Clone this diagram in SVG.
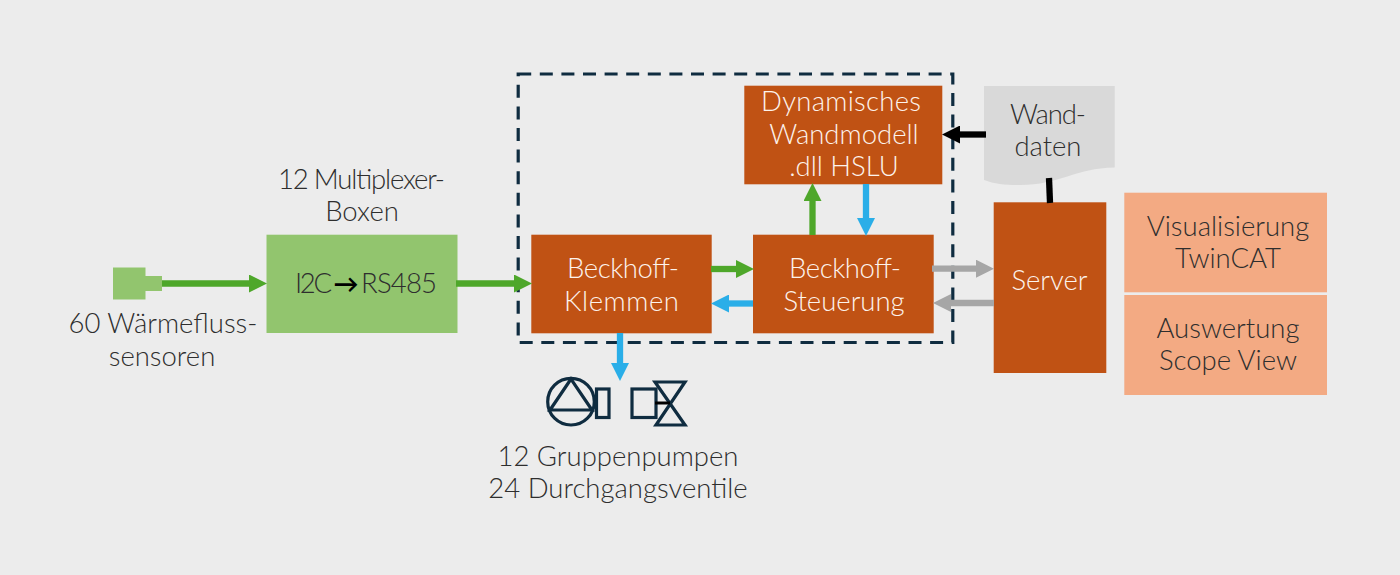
<svg xmlns="http://www.w3.org/2000/svg" width="1400" height="575" viewBox="0 0 1400 575">
<style>
text{font-family:"Lato","Open Sans","Liberation Sans",sans-serif;font-weight:300;font-size:27.5px;text-anchor:middle;fill:#2e2e2e}
.o{fill:#c05214}text.w{fill:#fdf3ec}.p{fill:#f3aa83}.g{fill:#92c56e}
.ln{fill:none;stroke-width:6.3}
.sym{fill:none;stroke:#0f2c40;stroke-width:3.2}
</style>
<defs>
<marker id="hg" markerUnits="userSpaceOnUse" markerWidth="18" markerHeight="18" refX="0" refY="9" orient="auto"><path d="M0 0L18 9L0 18Z" fill="#4ea72a"/></marker>
<marker id="hb" markerUnits="userSpaceOnUse" markerWidth="18" markerHeight="18" refX="0" refY="9" orient="auto"><path d="M0 0L18 9L0 18Z" fill="#2aaee8"/></marker>
<marker id="hy" markerUnits="userSpaceOnUse" markerWidth="18" markerHeight="18" refX="0" refY="9" orient="auto"><path d="M0 0L18 9L0 18Z" fill="#a6a6a6"/></marker>
<marker id="hk" markerUnits="userSpaceOnUse" markerWidth="18" markerHeight="18" refX="0" refY="9" orient="auto"><path d="M0 0L18 9L0 18Z" fill="#000"/></marker>
</defs>
<rect width="1400" height="575" fill="#ececec"/>
<g id="sensor"><path class="g" d="M113 267.5H145.5V276H162V291H145.5V299.5H113Z"/>
<text x="163" y="333">60 Wärmefluss-</text><text x="162" y="366">sensoren</text></g>
<g id="mux"><rect class="g" x="266.5" y="234.7" width="191" height="98.3"/>
<text x="361.5" y="188.5" textLength="167">12 Multiplexer-</text><text x="362" y="221">Boxen</text>
<text x="313.5" y="293" textLength="37">I2C</text><text x="346" y="293" style="font-size:25px;font-weight:700;fill:#000">→</text><text x="399" y="293" textLength="76">RS485</text></g>
<g id="klemmen"><rect class="o" x="531.3" y="234.7" width="180.4" height="98.6"/>
<text class="w" x="623" y="278" textLength="112">Beckhoff-</text><text class="w" x="621.5" y="311" textLength="115">Klemmen</text></g>
<g id="steuerung"><rect class="o" x="753" y="234.7" width="180.7" height="98.6"/>
<text class="w" x="845" y="278" textLength="112">Beckhoff-</text><text class="w" x="844" y="311">Steuerung</text></g>
<g id="modell"><rect class="o" x="744.3" y="85.7" width="198" height="98.6"/>
<text class="w" x="841" y="111" textLength="160">Dynamisches</text><text class="w" x="844" y="144">Wandmodell</text><text class="w" x="844" y="176">.dll HSLU</text></g>
<g id="wanddaten"><path fill="#d9d9d9" d="M984 86H1114.7V167.5C1075 168 1060 185 1020 185C1005 185 995 184 984 180Z"/>
<text x="1048" y="123.5" textLength="76">Wand-</text><text x="1048" y="156" textLength="67">daten</text></g>
<g id="server"><rect class="o" x="993.7" y="202.3" width="112.6" height="170.7"/>
<text class="w" x="1049.5" y="290">Server</text></g>
<g id="visu"><rect class="p" x="1124.3" y="192.7" width="202.7" height="99.6"/>
<text x="1228" y="236">Visualisierung</text><text x="1228" y="268">TwinCAT</text></g>
<g id="auswertung"><rect class="p" x="1124.3" y="295" width="202.7" height="100"/>
<text x="1228" y="338">Auswertung</text><text x="1228" y="370">Scope View</text></g>
<g id="aktoren">
<circle class="sym" cx="571" cy="401.7" r="23.3"/><path class="sym" d="M571 379L550 410H592Z"/>
<rect class="sym" x="596.5" y="389" width="12.5" height="28.5"/>
<rect class="sym" x="632" y="389" width="24" height="28.5"/>
<path class="sym" d="M655 382H685L656 425H685Z"/>
<path d="M655 403H670" stroke="#000" stroke-width="3" fill="none"/>
<text x="618" y="466">12 Gruppenpumpen</text><text x="618" y="498">24 Durchgangsventile</text></g>
<g id="connectors">
<rect x="518.2" y="74" width="434.6" height="268.5" fill="none" stroke="#0f2c40" stroke-width="3.2" stroke-dasharray="13 8.6"/>
<path class="ln" stroke="#4ea72a" marker-end="url(#hg)" d="M162 283.5H249"/>
<path class="ln" stroke="#4ea72a" marker-end="url(#hg)" d="M456 283.5H514"/>
<path class="ln" stroke="#4ea72a" marker-end="url(#hg)" d="M711 269H736"/>
<path class="ln" stroke="#2aaee8" marker-end="url(#hb)" d="M753 303.5H729"/>
<path class="ln" stroke="#4ea72a" marker-end="url(#hg)" d="M812.5 235V201"/>
<path class="ln" stroke="#2aaee8" marker-end="url(#hb)" d="M866 184V218"/>
<path class="ln" stroke="#2aaee8" marker-end="url(#hb)" d="M620 333V363"/>
<path class="ln" stroke="#a6a6a6" marker-end="url(#hy)" d="M932 268.7H976"/>
<path class="ln" stroke="#a6a6a6" marker-end="url(#hy)" d="M994 303H951"/>
<path class="ln" stroke="#000" marker-end="url(#hk)" d="M986 134.5H960"/>
<path class="ln" stroke="#000" d="M1049 178L1050 203"/>
</g>
</svg>
